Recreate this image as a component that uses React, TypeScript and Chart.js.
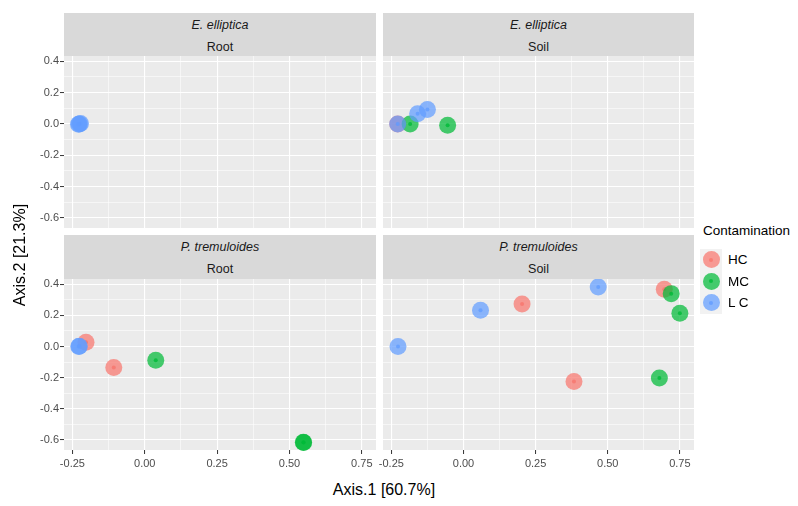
import React, { useEffect, useRef } from "react";
import { Chart, registerables } from "chart.js";

Chart.register(...registerables);

// ---------- data (Axis.1, Axis.2) ----------
const groupNames = ["HC", "MC", "LC"];
const groupLabels = ["HC", "MC", "L C"];
const groupColors = ["#F8766D", "#00BA38", "#619CFF"];

// E. elliptica – Root
const eeRootHC: number[][] = [];
const eeRootMC: number[][] = [];
const eeRootLC = [[-0.226, 0.0], [-0.222, 0.002], [-0.229, -0.002]];
// E. elliptica – Soil
const eeSoilHC = [[-0.228, 0.0]];
const eeSoilMC = [[-0.185, 0.0], [-0.055, -0.008]];
const eeSoilLC = [[-0.228, 0.0], [-0.159, 0.065], [-0.125, 0.092]];
// P. tremuloides – Root
const ptRootHC = [[-0.203, 0.028], [-0.107, -0.135]];
const ptRootMC = [[0.038, -0.088], [0.548, -0.615], [0.549, -0.617]];
const ptRootLC = [[-0.228, 0.0], [-0.226, 0.002]];
// P. tremuloides – Soil
const ptSoilHC = [[0.203, 0.274], [0.383, -0.225], [0.696, 0.368]];
const ptSoilMC = [[0.72, 0.34], [0.75, 0.214], [0.679, -0.202]];
const ptSoilLC = [[-0.227, 0.0], [0.059, 0.233], [0.467, 0.383]];

const xTicks = [-0.25, -0.125, 0, 0.125, 0.25, 0.375, 0.5, 0.625, 0.75];
const yTicks = [-0.6, -0.5, -0.4, -0.3, -0.2, -0.1, 0, 0.1, 0.2, 0.3, 0.4];
const xMin = -0.279, xMax = 0.799;
const yMin = -0.665, yMax = 0.434;

const xTitle = "Axis.1 [60.7%]";
const yTitle = "Axis.2 [21.3%]";
const legendTitle = "Contamination";

const FONT = "'Liberation Sans', Arial, sans-serif";

function rgba(hex: string, a: number) {
  const n = parseInt(hex.slice(1), 16);
  return `rgba(${(n >> 16) & 255},${(n >> 8) & 255},${n & 255},${a})`;
}

const isMajorX = (v: number) => Math.abs(v * 4 - Math.round(v * 4)) < 1e-6;
const isMajorY = (v: number) => Math.abs(v * 5 - Math.round(v * 5)) < 1e-6;

const bgPlugin = {
  id: "panelBg",
  beforeDraw(chart: any) {
    const { ctx, chartArea } = chart;
    ctx.save();
    ctx.fillStyle = "#EBEBEB";
    ctx.fillRect(chartArea.left, chartArea.top, chartArea.right - chartArea.left, chartArea.bottom - chartArea.top);
    ctx.restore();
  },
};

type PanelProps = {
  groups: number[][][];
  showX: boolean;
  showY: boolean;
  left: number;
  top: number;
  width: number;
  height: number;
  yAxisWidth: number;
};

function Panel({ groups, showX, showY, left, top, width, height, yAxisWidth }: PanelProps) {
  const ref = useRef<HTMLCanvasElement | null>(null);
  useEffect(() => {
    if (!ref.current) return;
    const big = groups.map((pts, i) => ({
      label: groupNames[i],
      data: pts.map((p) => ({ x: p[0], y: p[1] })),
      pointRadius: 8.5,
      pointBackgroundColor: rgba(groupColors[i], 0.72),
      pointBorderWidth: 0,
      showLine: false,
      clip: false,
    }));
    const dots = groups.map((pts, i) => ({
      label: groupNames[i] + " centre",
      data: pts.map((p) => ({ x: p[0], y: p[1] })),
      pointRadius: 2,
      pointBackgroundColor: rgba(groupColors[i], 0.8),
      pointBorderWidth: 0,
      showLine: false,
      clip: false,
    }));
    const datasets: any[] = [];
    for (let i = groups.length - 1; i >= 0; i--) {
      datasets.push(dots[i]);
      datasets.push(big[i]);
    }
    const chart = new Chart(ref.current, {
      type: "scatter",
      data: { datasets },
      plugins: [bgPlugin],
      options: {
        animation: false,
        responsive: false,
        devicePixelRatio: 1,
        events: [],
        layout: { padding: 0, autoPadding: false },
        plugins: { legend: { display: false }, tooltip: { enabled: false } },
        scales: {
          x: {
            type: "linear",
            min: xMin,
            max: xMax,
            afterBuildTicks: (s: any) => {
              s.ticks = xTicks.map((v) => ({ value: v }));
            },
            afterFit: (s: any) => {
              s.height = showX ? 26 : 0;
              s.paddingLeft = 0;
              s.paddingRight = 0;
              s.paddingTop = 0;
              s.paddingBottom = 0;
            },
            border: { display: false },
            grid: {
              color: "#FFFFFF",
              lineWidth: (c: any) => (c.tick && isMajorX(c.tick.value) ? 1.1 : 0.55),
              drawTicks: showX,
              tickLength: 4,
              tickWidth: 1,
              tickColor: (c: any) => (c.tick && isMajorX(c.tick.value) ? "#333333" : "rgba(0,0,0,0)"),
            },
            ticks: {
              display: showX,
              autoSkip: false,
              maxRotation: 0,
              padding: 3,
              color: "#4D4D4D",
              font: { family: FONT, size: 11 },
              callback: (v: any) => (isMajorX(Number(v)) ? Number(v).toFixed(2) : ""),
            },
          },
          y: {
            type: "linear",
            min: yMin,
            max: yMax,
            afterBuildTicks: (s: any) => {
              s.ticks = yTicks.map((v) => ({ value: v }));
            },
            afterFit: (s: any) => {
              s.width = yAxisWidth;
              s.paddingLeft = 0;
              s.paddingRight = 0;
              s.paddingTop = 0;
              s.paddingBottom = 0;
            },
            border: { display: false },
            grid: {
              color: "#FFFFFF",
              lineWidth: (c: any) => (c.tick && isMajorY(c.tick.value) ? 1.1 : 0.55),
              drawTicks: showY,
              tickLength: 4,
              tickWidth: 1,
              tickColor: (c: any) => (c.tick && isMajorY(c.tick.value) ? "#333333" : "rgba(0,0,0,0)"),
            },
            ticks: {
              display: showY,
              autoSkip: false,
              padding: 1,
              color: "#4D4D4D",
              font: { family: FONT, size: 11 },
              callback: (v: any) => (isMajorY(Number(v)) ? (Math.abs(Number(v)) < 1e-9 ? 0 : Number(v)).toFixed(1) : ""),
            },
          },
        },
      } as any,
    });
    return () => chart.destroy();
  }, []);
  return (
    <canvas
      ref={ref}
      width={width}
      height={height}
      style={{ position: "absolute", left, top, width, height }}
    />
  );
}

function Strip({ left, top, width, species, part }: { left: number; top: number; width: number; species: string; part: string }) {
  return (
    <div
      style={{
        position: "absolute",
        left,
        top,
        width,
        height: 44,
        background: "#D9D9D9",
        color: "#1A1A1A",
        fontFamily: FONT,
        fontSize: 12.5,
      }}
    >
      <div style={{ position: "absolute", left: 0, width, top: 4, height: 16, lineHeight: "16px", textAlign: "center", fontStyle: "italic" }}>
        {species}
      </div>
      <div style={{ position: "absolute", left: 0, width, top: 26, height: 16, lineHeight: "16px", textAlign: "center" }}>
        {part}
      </div>
    </div>
  );
}

export default function App() {
  const LX = 64, LW = 312; // left panel
  const RX = 383, RW = 311; // right panel
  const RPAD = 14;
  const T1 = 56, H1 = 172; // top panels
  const T2 = 279, H2 = 171; // bottom panels
  return (
    <div style={{ position: "absolute", left: 0, top: 0, width: 798, height: 506, background: "#FFFFFF", overflow: "hidden", fontFamily: FONT }}>
      <Strip left={LX} top={12.5} width={LW} species="E. elliptica" part="Root" />
      <Strip left={RX} top={12.5} width={RW} species="E. elliptica" part="Soil" />
      <Strip left={LX} top={235} width={LW} species="P. tremuloides" part="Root" />
      <Strip left={RX} top={235} width={RW} species="P. tremuloides" part="Soil" />

      <Panel groups={[eeRootHC, eeRootMC, eeRootLC]} showX={false} showY={true} left={0} top={T1} width={LX + LW} height={H1} yAxisWidth={LX} />
      <Panel groups={[eeSoilHC, eeSoilMC, eeSoilLC]} showX={false} showY={false} left={RX - RPAD} top={T1} width={RW + RPAD} height={H1} yAxisWidth={RPAD} />
      <Panel groups={[ptRootHC, ptRootMC, ptRootLC]} showX={true} showY={true} left={0} top={T2} width={LX + LW} height={H2 + 26} yAxisWidth={LX} />
      <Panel groups={[ptSoilHC, ptSoilMC, ptSoilLC]} showX={true} showY={false} left={RX - RPAD} top={T2} width={RW + RPAD} height={H2 + 26} yAxisWidth={RPAD} />

      <div style={{ position: "absolute", left: 229, width: 310, top: 479, height: 22, lineHeight: "22px", textAlign: "center", fontSize: 16, color: "#000" }}>
        {xTitle}
      </div>
      <div
        style={{
          position: "absolute",
          left: 20 - 100,
          top: 255 - 11,
          width: 200,
          height: 22,
          lineHeight: "22px",
          textAlign: "center",
          fontSize: 16,
          color: "#000",
          transform: "rotate(-90deg)",
        }}
      >
        {yTitle}
      </div>

      <div style={{ position: "absolute", left: 703, top: 222, height: 18, lineHeight: "18px", fontSize: 13.5, color: "#000", whiteSpace: "nowrap" }}>
        {legendTitle}
      </div>
      {groupLabels.map((lab, i) => (
        <div key={lab} style={{ position: "absolute", left: 700, top: 249 + i * 21.5, width: 22, height: 21.5, background: "#F2F2F2" }}>
          <div style={{ position: "absolute", left: 2.5, top: 2.25, width: 17, height: 17, borderRadius: "50%", background: rgba(groupColors[i], 0.72) }} />
          <div style={{ position: "absolute", left: 9, top: 8.75, width: 4, height: 4, borderRadius: "50%", background: rgba(groupColors[i], 0.8) }} />
          <div style={{ position: "absolute", left: 28, top: 0, height: 21.5, lineHeight: "21.5px", fontSize: 13.5, color: "#000", whiteSpace: "nowrap" }}>
            {lab}
          </div>
        </div>
      ))}
    </div>
  );
}
